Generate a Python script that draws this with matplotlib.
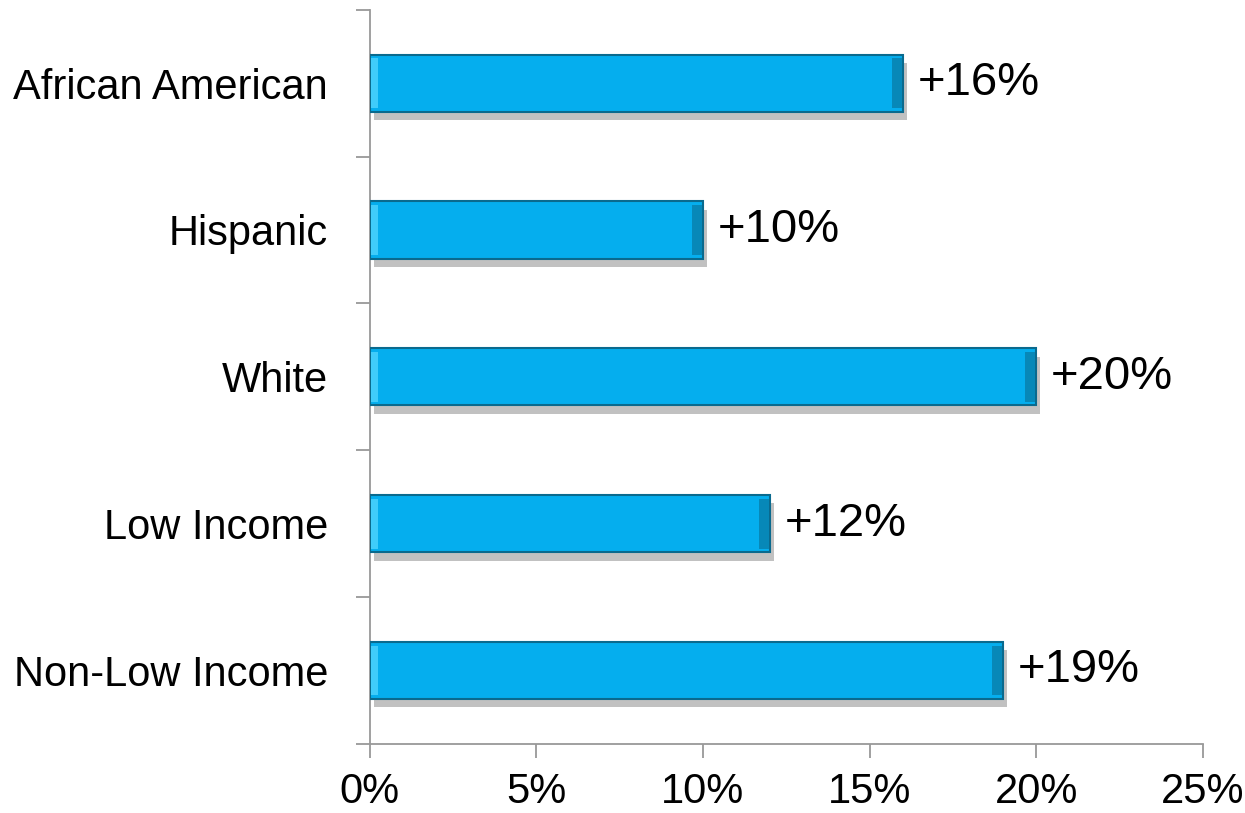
import matplotlib.pyplot as plt
import matplotlib.patheffects as pe
from matplotlib.ticker import FixedLocator, PercentFormatter

plt.rcParams['font.family'] = ['Liberation Sans', 'DejaVu Sans']

categories = ['African American', 'Hispanic', 'White', 'Low Income', 'Non-Low Income']
values = [16, 10, 20, 12, 19]
labels = ['+16%', '+10%', '+20%', '+12%', '+19%']

fig = plt.figure(figsize=(12.45, 8.13), dpi=100)
ax = fig.add_axes([0.297, 0.085, 0.669, 0.903])

pos = list(range(len(categories)))[::-1]

# bars with a soft drop shadow
ax.barh(pos, values, height=0.39, color='#05AEEE', edgecolor='#0A6A8E',
        linewidth=1.5, zorder=3,
        path_effects=[pe.SimplePatchShadow(offset=(3, -6), shadow_rgbFace='#666666', alpha=0.4),
                      pe.Normal()])
# bevel: light strip on the left end, darker strip on the right end
ax.barh(pos, [0.22] * len(values), left=0.03, height=0.34, color='#40CCFA', linewidth=0, zorder=4)
ax.barh(pos, [0.3] * len(values), left=[v - 0.33 for v in values], height=0.34,
        color='#0788B8', linewidth=0, zorder=4)

for p, v, t in zip(pos, values, labels):
    ax.text(v + 0.45, p, t, va='center', ha='left', fontsize=34)

ax.set_xlim(0, 25)
ax.set_ylim(-0.5, len(categories) - 0.5)
ax.set_xticks([0, 5, 10, 15, 20, 25])
ax.xaxis.set_major_formatter(PercentFormatter(decimals=0))
ax.set_yticks(pos)
ax.set_yticklabels(categories)
ax.yaxis.set_minor_locator(FixedLocator([i + 0.5 for i in range(-1, len(categories))]))

for s in ['top', 'right']:
    ax.spines[s].set_visible(False)
for s in ['left', 'bottom']:
    ax.spines[s].set_color('#999999')
    ax.spines[s].set_linewidth(1.3)

ax.tick_params(axis='x', length=10, width=1.3, color='#999999', labelsize=30, pad=10)
ax.tick_params(axis='y', which='major', length=0, labelsize=30, pad=30)
ax.tick_params(axis='y', which='minor', length=10, width=1.3, color='#999999')

fig.savefig('out.png', dpi=100)
